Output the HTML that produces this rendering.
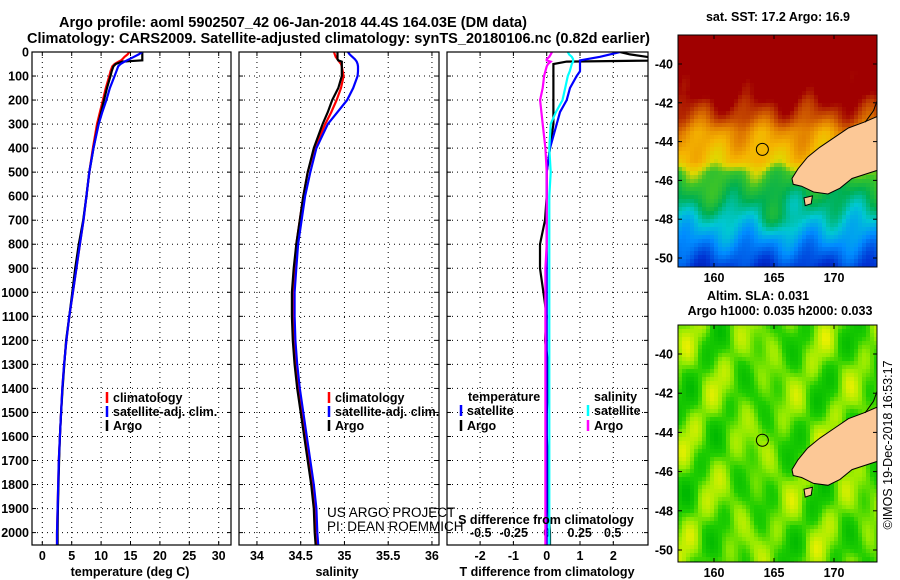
<!DOCTYPE html>
<html><head><meta charset="utf-8"><style>
html,body{margin:0;padding:0;background:#fff;}
svg{display:block;font-family:"Liberation Sans",sans-serif;}
.b{font-weight:bold;font-size:12.5px;}
</style></head><body>
<svg id="s" width="900" height="580" viewBox="0 0 900 580" xmlns="http://www.w3.org/2000/svg">
<defs>
<clipPath id="c1"><rect x="32" y="52" width="199" height="493"/></clipPath>
<clipPath id="c2"><rect x="239" y="52" width="200" height="493"/></clipPath>
<clipPath id="c3"><rect x="447" y="52" width="201" height="493"/></clipPath>
<clipPath id="cm1"><rect x="678" y="35" width="199" height="232"/></clipPath>
<clipPath id="cm2"><rect x="678" y="325" width="199" height="237"/></clipPath>
</defs>
<text x="59" y="27" font-size="14.5" font-weight="bold" textLength="468" lengthAdjust="spacingAndGlyphs">Argo profile: aoml 5902507_42 06-Jan-2018 44.4S 164.03E (DM data)</text>
<text x="27" y="43" font-size="14.5" font-weight="bold" textLength="623" lengthAdjust="spacingAndGlyphs">Climatology: CARS2009. Satellite-adjusted climatology: synTS_20180106.nc (0.82d earlier)</text>
<g id="g"></g>
</svg>
<script>
// ---- profile data ----
const depths=[0,10,20,30,35,40,50,60,80,100,150,200,250,300,400,500,600,700,800,900,1000,1100,1200,1300,1400,1500,1600,1700,1800,1900,2000,2050];
const tempClim=[14.8,14.5,14.0,13.6,13.4,13.0,12.3,11.9,11.6,11.4,10.8,10.3,9.8,9.3,8.6,8.0,7.5,7.0,6.4,5.8,5.2,4.6,4.1,3.7,3.4,3.2,3.0,2.8,2.7,2.6,2.5,2.5];
const tempSat=[17.0,16.4,15.6,14.8,14.4,14.0,13.3,12.9,12.6,12.3,11.5,10.9,10.2,9.6,8.7,8.0,7.5,7.0,6.4,5.8,5.2,4.6,4.1,3.7,3.4,3.2,3.0,2.8,2.7,2.6,2.5,2.5];
const tempArgo=[17.0,17.0,17.0,17.0,17.0,13.6,12.5,12.1,11.8,11.6,11.0,10.5,10.0,9.5,8.7,8.0,7.5,6.95,6.2,5.6,5.1,4.6,4.05,3.75,3.45,3.2,3.0,2.85,2.75,2.65,2.6,2.6];
const salClim=[34.88,34.89,34.90,34.92,34.93,34.94,34.96,34.97,34.98,34.99,34.96,34.91,34.85,34.78,34.66,34.58,34.53,34.49,34.45,34.43,34.41,34.41,34.42,34.44,34.47,34.51,34.55,34.59,34.63,34.66,34.67,34.68];
const salSat=[35.04,35.06,35.09,35.12,35.13,35.14,35.15,35.155,35.155,35.15,35.10,35.03,34.92,34.81,34.68,34.61,34.55,34.51,34.47,34.45,34.43,34.43,34.44,34.46,34.49,34.53,34.57,34.61,34.65,34.68,34.69,34.70];
const salArgo=[34.92,34.92,34.92,34.92,34.93,34.97,34.97,34.97,34.97,34.97,34.93,34.86,34.81,34.75,34.65,34.58,34.53,34.49,34.45,34.42,34.40,34.40,34.41,34.43,34.46,34.50,34.54,34.58,34.62,34.65,34.66,34.67];
const depthTicks=[0,100,200,300,400,500,600,700,800,900,1000,1100,1200,1300,1400,1500,1600,1700,1800,1900,2000];
const tempTicks=[0,5,10,15,20,25,30];
const salTicks=[34,34.5,35,35.5,36];
const tdTicks=[-2,-1,0,1,2];
const sdTicks=[-0.5,-0.25,0,0.25,0.5];
const latTicks=[-40,-42,-44,-46,-48,-50];
const lonTicks=[160,165,170];

const NS="http://www.w3.org/2000/svg";
const G=document.getElementById('g');
function el(t,a,p){const e=document.createElementNS(NS,t);for(const k in a)e.setAttribute(k,a[k]);(p||G).appendChild(e);return e;}
function txt(s,a,p){const e=el('text',a,p);e.textContent=s;return e;}
const yD=d=>52+d*0.2403;
const xT=t=>42.3+t*5.88;
const xS=s=>300.7+(s-34.5)*87.5;
const xTD=t=>546.7+t*33.3;
const xSD=s=>546.7+s*132;

const panels=[{x0:32,x1:231,name:'temperature-panel'},{x0:239,x1:439,name:'salinity-panel'},{x0:447,x1:648,name:'difference-panel'}];
const pg=[];
panels.forEach((p,i)=>{
  const g=el('g',{});
  
  
  pg.push(g);
  depthTicks.forEach(d=>{ if(d>0) el('line',{x1:p.x0,x2:p.x1,y1:yD(d),y2:yD(d),stroke:'#000','stroke-width':1,'stroke-dasharray':'1 4'},g);
    el('line',{x1:p.x0,x2:p.x0+4,y1:yD(d),y2:yD(d),stroke:'#000'},g);
    el('line',{x1:p.x1-4,x2:p.x1,y1:yD(d),y2:yD(d),stroke:'#000'},g);});
});
function vgrid(g,ticks,fx,y){ticks.forEach((t,i)=>{const x=fx(t);
  el('line',{x1:x,x2:x,y1:52,y2:545,stroke:'#000','stroke-dasharray':'1 4'},g);
  el('line',{x1:x,x2:x,y1:541,y2:545,stroke:'#000'},g);el('line',{x1:x,x2:x,y1:52,y2:56,stroke:'#000'},g);
  const l=txt(String(t),{x:x,y:y,'text-anchor':'middle',class:'b'},g);
  
  
});}
vgrid(pg[0],tempTicks,xT,560);
vgrid(pg[1],salTicks,xS,560);
vgrid(pg[2],tdTicks,xTD,560);
sdTicks.forEach(s=>{const l=txt(String(s),{x:xSD(s),y:537,'text-anchor':'middle',class:'b'},pg[2]);
  
  });
depthTicks.forEach(d=>{const l=txt(String(d),{x:29,y:yD(d)+4.5,'text-anchor':'end',class:'b'});
  
  });
function line(g,clip,xs,fx,color,name){
  const pts=xs.map((v,i)=>fx(v).toFixed(1)+','+yD(depths[i]).toFixed(1)).join(' ');
  const e=el('polyline',{points:pts,fill:'none',stroke:color,'stroke-width':2.2,'clip-path':'url(#'+clip+')'},g);
  
  
}
line(pg[0],'c1',tempClim,xT,'#ff0000','temp-climatology-line');
line(pg[0],'c1',tempArgo,xT,'#000000','temp-argo-line');
line(pg[0],'c1',tempSat,xT,'#0000ff','temp-satellite-line');
line(pg[1],'c2',salClim,xS,'#ff0000','sal-climatology-line');
line(pg[1],'c2',salArgo,xS,'#000000','sal-argo-line');
line(pg[1],'c2',salSat,xS,'#0000ff','sal-satellite-line');
const tdSat=tempSat.map((v,i)=>v-tempClim[i]);
const tdArgo=tempArgo.map((v,i)=>v-tempClim[i]);
const sdSat=salSat.map((v,i)=>v-salClim[i]);
const sdArgo=salArgo.map((v,i)=>v-salClim[i]);
line(pg[2],'c3',tdArgo,xTD,'#000000','temp-diff-argo-line');
line(pg[2],'c3',tdSat,xTD,'#0000ff','temp-diff-satellite-line');
line(pg[2],'c3',sdSat,xSD,'#00ffff','sal-diff-satellite-line');
line(pg[2],'c3',sdArgo,xSD,'#ff00ff','sal-diff-argo-line');
panels.forEach((p,i)=>{el('rect',{x:p.x0,y:52,width:p.x1-p.x0,height:493,fill:'none',stroke:'#000','stroke-width':1.2},pg[i]);});
[['temperature (deg C)',130,'x-axis-title-temperature'],['salinity',337,'x-axis-title-salinity'],['T difference from climatology',547,'x-axis-title-t-diff']].forEach(a=>{
  const t=txt(a[0],{x:a[1],y:576,'text-anchor':'middle',class:'b'});
  
  });
const sdt=txt('S difference from climatology',{x:546,y:524,'text-anchor':'middle',class:'b'});


function leg(x,y,color,label,g){
  el('line',{x1:x,x2:x,y1:y-10,y2:y+1,stroke:color,'stroke-width':2.5},g);
  const t=txt(label,{x:x+6,y:y,class:'b'},g);
  
  
}
leg(107,402,'#ff0000','climatology',pg[0]);leg(107,416,'#0000ff','satellite-adj. clim.',pg[0]);leg(107,430,'#000','Argo',pg[0]);
leg(329,402,'#ff0000','climatology',pg[1]);leg(329,416,'#0000ff','satellite-adj. clim.',pg[1]);leg(329,430,'#000','Argo',pg[1]);
const lt=txt('temperature',{x:468,y:401,class:'b'},pg[2]);


const ls=txt('salinity',{x:594,y:401,class:'b'},pg[2]);


leg(461,415,'#0000ff','satellite',pg[2]);leg(461,430,'#000','Argo',pg[2]);
leg(588,415,'#00ffff','satellite',pg[2]);leg(588,430,'#ff00ff','Argo',pg[2]);
const us=txt('US ARGO PROJECT',{x:327,y:517,'font-size':13.5},G);


const pi=txt('PI: DEAN ROEMMICH',{x:327,y:531,'font-size':13.5},G);



// ---- maps ----
const mxL=lon=>714+12*(lon-160);
function jet(v,stops){v=Math.max(0,Math.min(1,v));for(let i=1;i<stops.length;i++){if(v<=stops[i][0]){const a=stops[i-1],b=stops[i],f=(v-a[0])/(b[0]-a[0]);
  const ca=a[1],cb=b[1];return 'rgb('+[0,1,2].map(k=>Math.round(ca[k]+(cb[k]-ca[k])*f)).join(',')+')';}}return 'rgb(160,0,0)';}
const sstStops=[[0,[0,0,140]],[0.15,[0,50,210]],[0.28,[0,140,255]],[0.38,[0,200,210]],[0.47,[0,176,80]],[0.56,[60,196,40]],[0.63,[225,215,0]],[0.71,[245,180,0]],[0.8,[225,125,0]],[0.88,[190,60,0]],[0.94,[160,0,0]],[1,[160,0,0]]];
const slaStops=[[0,[0,185,0]],[0.35,[30,205,0]],[0.65,[150,235,0]],[1,[235,240,0]]];
function baseSST(lat){const L=[[-38,1.05],[-41.5,0.97],[-42.8,0.86],[-43.5,0.76],[-45,0.68],[-45.6,0.57],[-46.5,0.49],[-47.5,0.42],[-48.8,0.32],[-50.5,0.16]];
  for(let i=1;i<L.length;i++){if(lat>=L[i][0]){const a=L[i-1],b=L[i],f=(lat-a[0])/(b[0]-a[0]);return a[1]+(b[1]-a[1])*f;}}return 0.15;}
function drawMap(top,bottom,yfun,kind,clip,name){
  const g=el('g',{'clip-path':'url(#'+clip+')'});
  
  
  const cs=4;
  for(let y=top;y<bottom;y+=cs){for(let x=678;x<877;x+=cs){
    const lon=160+(x+2-714)/12, lat=yfun(y+2);
    let v;
    if(kind==='sst'){v=baseSST(lat)+0.035*Math.sin(lon*1.3+lat*0.9)+0.025*Math.sin(lon*2.3-lat*1.7)
      +0.04*Math.exp(-Math.pow(lat+46.8,2)/0.8-Math.pow(lon-160,2)/6)+0.07*Math.exp(-Math.pow(lat+48,2)/0.5-Math.pow(lon-165.5,2)/3);}
    else{v=0.5+0.25*Math.sin(lon*1.1+1)*Math.cos(lat*1.2)+0.18*Math.sin(lon*1.7-lat*1.3+2)+0.1*Math.cos(lon*2.6+lat*2.1);}
    el('rect',{x:x,y:y,width:cs+0.5,height:cs+0.5,fill:jet(v,kind==='sst'?sstStops:slaStops)},g);}}
  const land=[[174,-42.6],[172.5,-43.0],[171.2,-43.3],[170,-43.8],[168.8,-44.3],[167.8,-44.8],[167,-45.4],[166.5,-45.9],[166.6,-46.2],[167.3,-46.3],[168.3,-46.6],[169.5,-46.7],[170.5,-46.4],[171.5,-45.9],[174,-45.4]];
  const lp=el('polygon',{points:land.map(p=>mxL(p[0]).toFixed(1)+','+yfun.inv(p[1]).toFixed(1)).join(' '),fill:'#fcc896',stroke:'#000','stroke-width':1},g);
  
  
  const st=[[167.5,-46.9],[168.2,-46.8],[168.1,-47.2],[167.6,-47.3]];
  el('polygon',{points:st.map(p=>mxL(p[0]).toFixed(1)+','+yfun.inv(p[1]).toFixed(1)).join(' '),fill:'#fcc896',stroke:'#000'},g);
  el('polyline',{points:[[173.7,-41.7],[173.3,-42.4],[172.6,-43.0]].map(p=>mxL(p[0])+','+yfun.inv(p[1])).join(' '),fill:'none',stroke:'#000'},g);
  const c=el('circle',{cx:mxL(164.03),cy:yfun.inv(-44.4),r:6,fill:'none',stroke:'#000','stroke-width':1},g);
  
  
  el('rect',{x:678,y:top,width:199,height:bottom-top,fill:'none',stroke:'#000'});
  latTicks.forEach(l=>{const y=yfun.inv(l);
    el('line',{x1:678,x2:682,y1:y,y2:y,stroke:'#000'});el('line',{x1:873,x2:877,y1:y,y2:y,stroke:'#000'});
    const t=txt(String(l),{x:673,y:y+4.5,'text-anchor':'end',class:'b'});
    
    });
  lonTicks.forEach(l=>{const x=mxL(l);
    el('line',{x1:x,x2:x,y1:top,y2:top+4,stroke:'#000'});el('line',{x1:x,x2:x,y1:bottom-4,y2:bottom,stroke:'#000'});
    const t=txt(String(l),{x:x,y:bottom+15,'text-anchor':'middle',class:'b'});
    
    });
}
const y1=y=>-40-(y-64)/19.4; y1.inv=l=>64+19.4*(-40-l);
const y2=y=>-40-(y-354)/19.6; y2.inv=l=>354+19.6*(-40-l);
drawMap(35,267,y1,'sst','cm1','sst-map');
drawMap(325,562,y2,'sla','cm2','sla-map');
[['sat. SST: 17.2 Argo: 16.9',778,21,'sst-map-title'],['Altim. SLA: 0.031',758,300,'sla-map-title'],['Argo h1000: 0.035 h2000: 0.033',780,315,'sla-map-subtitle']].forEach(a=>{
  const t=txt(a[0],{x:a[1],y:a[2],'text-anchor':'middle',class:'b'});
  
  });
const cp=txt('©IMOS 19-Dec-2018 16:53:17',{x:0,y:0,'font-size':12.5,'text-anchor':'middle',transform:'translate(892,445) rotate(-90)'});


</script>
</body></html>
